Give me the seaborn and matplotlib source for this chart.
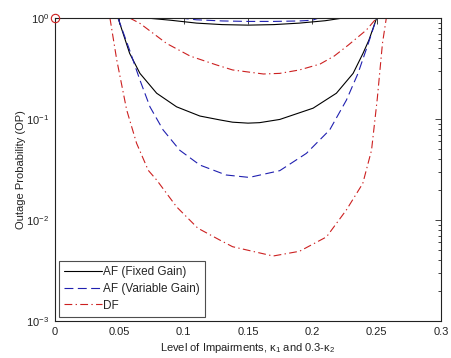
import matplotlib
matplotlib.use("Agg")
import matplotlib.pyplot as plt
from matplotlib.lines import Line2D
from matplotlib.ticker import LogLocator, FixedLocator, NullFormatter
import numpy as np
import pandas as pd
import seaborn as sns

# ---- data ----
# AF (Fixed Gain) curves
af_fixed_x1 = [0.071, 0.09, 0.11, 0.13, 0.15, 0.17, 0.19, 0.21, 0.224]
af_fixed_y1 = [1.0, 0.95, 0.89, 0.86, 0.85, 0.86, 0.89, 0.94, 1.0]
af_fixed_x2 = [0.049, 0.058, 0.066, 0.079, 0.0945, 0.1126, 0.128, 0.138, 0.15, 0.159,
               0.1747, 0.2006, 0.2187, 0.2317, 0.2394, 0.244, 0.250]
af_fixed_y2 = [1.0, 0.447, 0.283, 0.18, 0.132, 0.107, 0.098, 0.093, 0.091, 0.092,
               0.099, 0.128, 0.18, 0.283, 0.447, 0.605, 1.0]

# AF (Variable Gain) curves
af_var_x1 = [0.097, 0.11, 0.13, 0.15, 0.17, 0.19, 0.2, 0.205]
af_var_y1 = [1.0, 0.96, 0.935, 0.925, 0.925, 0.935, 0.95, 1.0]
af_var_x2 = [0.049, 0.058, 0.066, 0.0738, 0.084, 0.097, 0.1126, 0.133, 0.151,
             0.1747, 0.1954, 0.2135, 0.2265, 0.2355, 0.2435, 0.250]
af_var_y2 = [1.0, 0.48, 0.243, 0.132, 0.078, 0.049, 0.035, 0.0279, 0.0264,
             0.0308, 0.0457, 0.078, 0.154, 0.283, 0.56, 1.0]

# DF curves
df_x1 = [0.058, 0.066, 0.0867, 0.105, 0.1255, 0.138, 0.162, 0.1747, 0.190, 0.206, 0.217,
         0.228, 0.242, 0.250]
df_y1 = [1.0, 0.885, 0.56, 0.42, 0.343, 0.306, 0.279, 0.283, 0.306, 0.35, 0.42,
         0.54, 0.76, 1.0]
df_x2 = [0.0427, 0.048, 0.0557, 0.0634, 0.0725, 0.079, 0.0945, 0.111, 0.128, 0.138,
         0.1695, 0.190, 0.211, 0.2265, 0.2392, 0.246, 0.2505, 0.2545, 0.2575]
df_y2 = [1.0, 0.384, 0.123, 0.0575, 0.031, 0.0249, 0.0135, 0.0083, 0.00634, 0.00544,
         0.0044, 0.0049, 0.0068, 0.0126, 0.023, 0.049, 0.16, 0.56, 1.0]

series_names = ["AF (Fixed Gain)", "AF (Variable Gain)", "DF"]
marker_x = [0.0]
marker_y = [1.0]

# ---- build table ----
rows = []
def add(name, cid, xs, ys):
    for xv, yv in zip(xs, ys):
        rows.append({"x": xv, "y": yv, "series": name, "curve": cid})

add(series_names[0], 0, af_fixed_x1, af_fixed_y1)
add(series_names[0], 1, af_fixed_x2, af_fixed_y2)
add(series_names[1], 2, af_var_x1, af_var_y1)
add(series_names[1], 3, af_var_x2, af_var_y2)
add(series_names[2], 4, df_x1, df_y1)
add(series_names[2], 5, df_x2, df_y2)
data = pd.DataFrame(rows)

sns.set_style("white")
plt.rcParams["font.family"] = ["Liberation Sans", "DejaVu Sans"]
plt.rcParams["mathtext.default"] = "regular"

colors = {series_names[0]: "#000000", series_names[1]: "#2020b0", series_names[2]: "#cc2020"}
dashes = {series_names[0]: (None, None), series_names[1]: (8, 4), series_names[2]: (7, 3, 1.2, 3)}

fig = plt.figure(figsize=(4.52, 3.58), dpi=100)
ax = fig.add_axes([55 / 452, 1 - 321 / 358, (441 - 55) / 452, (321 - 18) / 358])

for cid, sub in data.groupby("curve"):
    name = sub["series"].iloc[0]
    sns.lineplot(data=sub, x="x", y="y", ax=ax, color=colors[name], sort=False,
                 estimator=None, linewidth=0.8, legend=False)
    ln = ax.lines[-1]
    if name != series_names[0]:
        ln.set_dashes(dashes[name])

ax.plot(marker_x, marker_y, marker="o", markersize=6, markerfacecolor="none",
        markeredgecolor="#cc2020", markeredgewidth=0.8, linestyle="none", clip_on=False, zorder=5)

ax.set_yscale("log")
ax.set_xlim(0, 0.3)
ax.set_ylim(1e-3, 1)
ax.set_xticks([0, 0.05, 0.1, 0.15, 0.2, 0.25, 0.3])
ax.set_xticklabels(["0", "0.05", "0.1", "0.15", "0.2", "0.25", "0.3"])
ax.yaxis.set_major_locator(FixedLocator([1e-3, 1e-2, 1e-1, 1]))
ax.yaxis.set_minor_locator(LogLocator(base=10, subs=np.arange(2, 10), numticks=20))
ax.yaxis.set_minor_formatter(NullFormatter())

ax.tick_params(which="both", direction="in", top=True, right=True, labelsize=8, colors="#222222",
               width=0.6, pad=4)
ax.tick_params(which="major", length=4)
ax.tick_params(which="minor", length=2.5)
for sp in ax.spines.values():
    sp.set_linewidth(0.8)
    sp.set_color("#222222")

ax.set_xlabel("Level of Impairments, κ$_1$ and 0.3-κ$_2$", fontsize=8, labelpad=3, color="#222222")
ax.set_ylabel("Outage Probability (OP)", fontsize=8, labelpad=0, color="#222222")
ax.yaxis.set_label_coords(-0.076, 0.5)

handles = [Line2D([], [], color=colors[n], linewidth=0.8) for n in series_names]
handles[1].set_dashes(dashes[series_names[1]])
handles[2].set_dashes(dashes[series_names[2]])
leg = ax.legend(handles, series_names, loc="lower left", fontsize=8.5, frameon=True, fancybox=False,
                handlelength=3.2, handletextpad=0.1, borderpad=0.45, labelspacing=0.4,
                borderaxespad=0.35)
leg.get_frame().set_edgecolor("#222222")
leg.get_frame().set_linewidth(0.8)

fig.savefig("out.png", dpi=100)
